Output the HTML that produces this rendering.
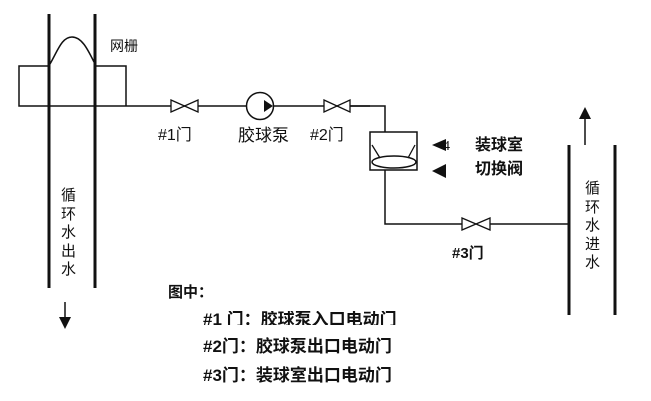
<!DOCTYPE html>
<html><head><meta charset="utf-8"><style>
body{margin:0;background:#fff;width:651px;height:401px;overflow:hidden;position:relative;font-family:"Liberation Sans","Noto Sans CJK SC",sans-serif;}
.t{position:absolute;color:#111;white-space:nowrap;line-height:1;}
.b{font-weight:bold;}
</style></head><body>
<svg width="651" height="401" style="position:absolute;left:0;top:0" xmlns="http://www.w3.org/2000/svg">
<g stroke="#111" fill="none">
<line x1="49" y1="14" x2="49" y2="288" stroke-width="3"/>
<line x1="95" y1="14" x2="95" y2="288" stroke-width="3"/>
<path d="M50 64 C58 50,62 37,72 37 C82 37,88 50,94 62" stroke-width="1.5"/>
<path d="M49 66 H19 V106 H370 V106" stroke-width="1.5"/>
<path d="M95 66 H126 V106" stroke-width="1.5"/>
<path d="M171 100 L198 112 V100 L171 112 Z" stroke-width="1.3" fill="#fff"/>
<circle cx="260" cy="106" r="13.5" stroke-width="1.5" fill="#fff"/>
<path d="M324 100 L350 112 V100 L324 112 Z" stroke-width="1.3" fill="#fff"/>
<path d="M350 106 H385 V132" stroke-width="1.5"/>
<rect x="370" y="132" width="47" height="38" stroke-width="1.5"/>
<path d="M372 145 L380 158 M415 145 L408 158" stroke-width="1.3"/>
<ellipse cx="394" cy="162" rx="22" ry="6" stroke-width="1.5"/>
<path d="M385 170 V224 H462" stroke-width="1.5"/>
<path d="M462 218 L490 230 V218 L462 230 Z" stroke-width="1.3" fill="#fff"/>
<path d="M490 224 H570" stroke-width="1.5"/>
<line x1="569" y1="145" x2="569" y2="315" stroke-width="3"/>
<line x1="615" y1="145" x2="615" y2="315" stroke-width="3"/>
<line x1="585" y1="145" x2="585" y2="115" stroke-width="1.5"/>
<line x1="65" y1="302" x2="65" y2="320" stroke-width="1.5"/>
</g>
<g fill="#111">
<polygon points="264,100 273,106 264,112"/>
<polygon points="585,107 579,119 591,119"/>
<polygon points="65,329 59,317 71,317"/>
<polygon points="432,145 446,139 446,151"/>
<polygon points="432,171 446,164 446,178"/>
</g>
</svg>
<div class="t" style="left:110px;top:39px;font-size:14px">网栅</div>
<div class="t" style="left:158px;top:128px;font-size:16px">#1门</div>
<div class="t" style="left:238px;top:127px;font-size:17px">胶球泵</div>
<div class="t" style="left:310px;top:128px;font-size:16px">#2门</div>
<div class="t" style="left:443px;top:140px;font-size:14px;font-family:'Liberation Serif',serif">4</div>
<div class="t b" style="left:475px;top:138px;font-size:16px">装球室</div>
<div class="t b" style="left:475px;top:162px;font-size:16px">切换阀</div>
<div class="t b" style="left:452px;top:246px;font-size:15px">#3门</div>
<div class="t" style="left:61px;top:187px;font-size:15px;width:16px;line-height:18.5px;white-space:normal">循环水出水</div>
<div class="t" style="left:585px;top:180px;font-size:15px;width:16px;line-height:18.5px;white-space:normal">循环水进水</div>
<div class="t b" style="left:168px;top:285px;font-size:15px">图中：</div>
<div class="t b" style="left:203px;top:311px;font-size:17px;height:14px;overflow:hidden">#1 门：胶球泵入口电动门</div>
<div class="t b" style="left:203px;top:338px;font-size:17px">#2门：胶球泵出口电动门</div>
<div class="t b" style="left:203px;top:367px;font-size:17px">#3门：装球室出口电动门</div>
</body></html>
